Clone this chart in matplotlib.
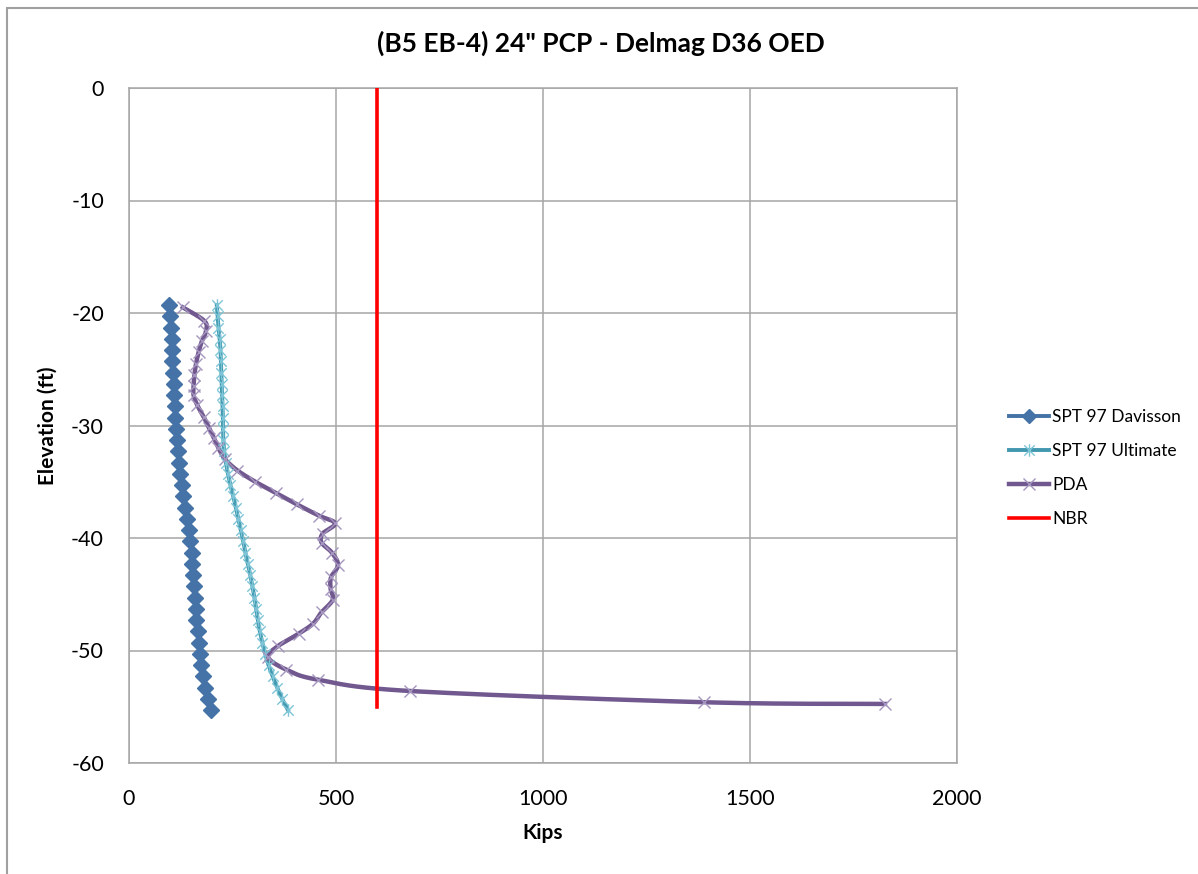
import numpy as np
import matplotlib
matplotlib.use("Agg")
import matplotlib.pyplot as plt
from matplotlib.lines import Line2D
from matplotlib.path import Path
from matplotlib.patches import Rectangle

plt.rcParams['font.family'] = ['Lato', 'DejaVu Sans']
plt.rcParams['axes.unicode_minus'] = False

TITLE = '(B5 EB-4) 24" PCP - Delmag D36 OED'

# SPT 97 Davisson capacity (kips) vs elevation (ft)
davisson_elev = [-19.3, -20.3, -21.3, -22.3, -23.3, -24.3, -25.3, -26.3, -27.3, -28.3,
                 -29.3, -30.3, -31.3, -32.3, -33.3, -34.3, -35.3, -36.3, -37.3, -38.3,
                 -39.3, -40.3, -41.3, -42.3, -43.3, -44.3, -45.3, -46.3, -47.3, -48.3,
                 -49.3, -50.3, -51.3, -52.3, -53.3, -54.3, -55.3]
davisson_kips = [97, 100, 102, 103, 104, 105, 106, 108, 109, 110,
                 112, 114, 116, 118, 120, 123, 127, 131, 135, 139,
                 144, 148, 151, 153, 155, 157, 159, 161, 163, 166,
                 168, 171, 174, 178, 184, 190, 197]

# SPT 97 Ultimate capacity (kips) vs elevation (ft)
ultimate_elev = davisson_elev
ultimate_kips = [212, 214, 216, 219, 221, 222, 223, 224, 225, 226,
                 227, 227, 228, 230, 234, 239, 245, 252, 258, 264,
                 270, 276, 281, 287, 293, 298, 303, 307, 311, 316,
                 322, 329, 337, 347, 358, 370, 384]

# PDA capacity (kips) vs elevation (ft)
pda_elev = [-19.5, -20.7, -21.6, -22.5, -23.5, -24.5, -25.5, -26.5, -27.3, -28.2,
            -29.2, -30.2, -31.1, -32.0, -33.0, -34.0, -35.0, -36.0, -37.0, -38.0,
            -38.7, -39.6, -40.4, -41.3, -42.4, -43.5, -44.5, -45.5, -46.6, -47.6,
            -48.5, -49.6, -50.6, -51.7, -52.6, -53.6, -54.6, -54.75]
pda_kips = [130, 182, 186, 176, 168, 162, 158, 156, 156, 165,
            180, 193, 205, 216, 232, 262, 305, 355, 405, 458,
            498, 468, 465, 490, 505, 488, 487, 492, 465, 445,
            410, 360, 336, 380, 457, 679, 1390, 1826]

# NBR (nominal bearing resistance) line
nbr_kips = [600, 600]
nbr_elev = [0, -55]

X_TICKS = [0, 500, 1000, 1500, 2000]
Y_TICKS = [0, -10, -20, -30, -40, -50, -60]

C_DAV = '#4572A7'
C_ULT = '#4198AF'
C_ULT_M = '#7cc4d6'
C_PDA = '#71588F'
C_PDA_M = '#a596bf'
C_NBR = '#FF0000'
C_GRID = '#a6a6a6'


def smooth(xs, ys, n=24):
    """Catmull-Rom style smoothing (Bezier segments) through the points."""
    p = np.column_stack([xs, ys]).astype(float)
    m = len(p)
    out = [p[0]]
    t = np.linspace(0, 1, n)[1:, None]
    for i in range(m - 1):
        p0 = p[i - 1] if i > 0 else p[i]
        p1, p2 = p[i], p[i + 1]
        p3 = p[i + 2] if i + 2 < m else p[i + 1]
        c1 = p1 + (p2 - p0) / 6.0
        c2 = p2 - (p3 - p1) / 6.0
        seg = ((1 - t) ** 3) * p1 + 3 * ((1 - t) ** 2) * t * c1 + 3 * (1 - t) * t ** 2 * c2 + t ** 3 * p2
        out.extend(seg)
    out = np.array(out)
    return out[:, 0], out[:, 1]


# asterisk marker: an "x" with a vertical stroke through it
star_verts = [(-1, -1), (1, 1), (-1, 1), (1, -1), (0, -1.2), (0, 1.2)]
star_codes = [Path.MOVETO, Path.LINETO, Path.MOVETO, Path.LINETO, Path.MOVETO, Path.LINETO]
star_marker = Path(star_verts, star_codes)

fig = plt.figure(figsize=(11.98, 8.74), dpi=100)
ax = fig.add_axes([129 / 1198, 1 - 763 / 874, 828 / 1198, 675 / 874])

# outer chart frame
fig.patches.append(Rectangle((7 / 1198, -0.5), 2.0, 1.5 - 8 / 874, transform=fig.transFigure,
                             fill=False, edgecolor='#a0a0a0', linewidth=1.5))

ax.set_xlim(0, 2000)
ax.set_ylim(-60, 0)
ax.set_xticks(X_TICKS)
ax.set_yticks(Y_TICKS)
ax.grid(True, color=C_GRID, linewidth=1.1)
ax.set_axisbelow(True)
for s in ax.spines.values():
    s.set_color(C_GRID)
    s.set_linewidth(1.1)
ax.tick_params(length=0, labelsize=15.5, colors='#000000')
ax.tick_params(axis='x', pad=19)
ax.tick_params(axis='y', pad=18)

# SPT 97 Davisson
sx, sy = smooth(davisson_kips, davisson_elev)
ax.plot(sx, sy, color=C_DAV, lw=2.8, zorder=3)
ax.plot(davisson_kips, davisson_elev, ls='none', marker='D', ms=8.3,
        color=C_DAV, mec=C_DAV, zorder=4)

# SPT 97 Ultimate
sx, sy = smooth(ultimate_kips, ultimate_elev)
ax.plot(sx, sy, color=C_ULT, lw=2.8, zorder=3)
ax.plot(ultimate_kips, ultimate_elev, ls='none', marker=star_marker, ms=9,
        mec=C_ULT_M, mfc='none', mew=1.0, zorder=4)

# PDA
sx, sy = smooth(pda_kips, pda_elev)
ax.plot(sx, sy, color=C_PDA, lw=3.2, zorder=3)
ax.plot(pda_kips, pda_elev, ls='none', marker='x', ms=9,
        mec=C_PDA_M, mew=1.0, zorder=4)

# NBR
ax.plot(nbr_kips, nbr_elev, color=C_NBR, lw=2.6, zorder=3)

ax.set_title(TITLE, fontsize=19, fontweight='bold', pad=26, x=0.57)
ax.set_xlabel('Kips', fontsize=15, fontweight='bold', labelpad=10)
ax.set_ylabel('Elevation (ft)', fontsize=15, fontweight='bold', labelpad=10)

handles = [
    Line2D([], [], color=C_DAV, lw=2.8, marker='D', ms=7, mec=C_DAV),
    Line2D([], [], color=C_ULT, lw=2.8, marker=star_marker, ms=9, mec=C_ULT_M, mfc='none', mew=1.0),
    Line2D([], [], color=C_PDA, lw=3.2, marker='x', ms=9, mec=C_PDA_M, mew=1.0),
    Line2D([], [], color=C_NBR, lw=2.6),
]
labels = ['SPT 97 Davisson', 'SPT 97 Ultimate', 'PDA', 'NBR']
fig.legend(handles, labels, loc='center left', bbox_to_anchor=(1000 / 1198, 1 - 468 / 874),
           frameon=False, fontsize=12.5, handlelength=2.3, handletextpad=0.2,
           labelspacing=1.05, borderpad=0)

fig.savefig('out.png', dpi=100)
